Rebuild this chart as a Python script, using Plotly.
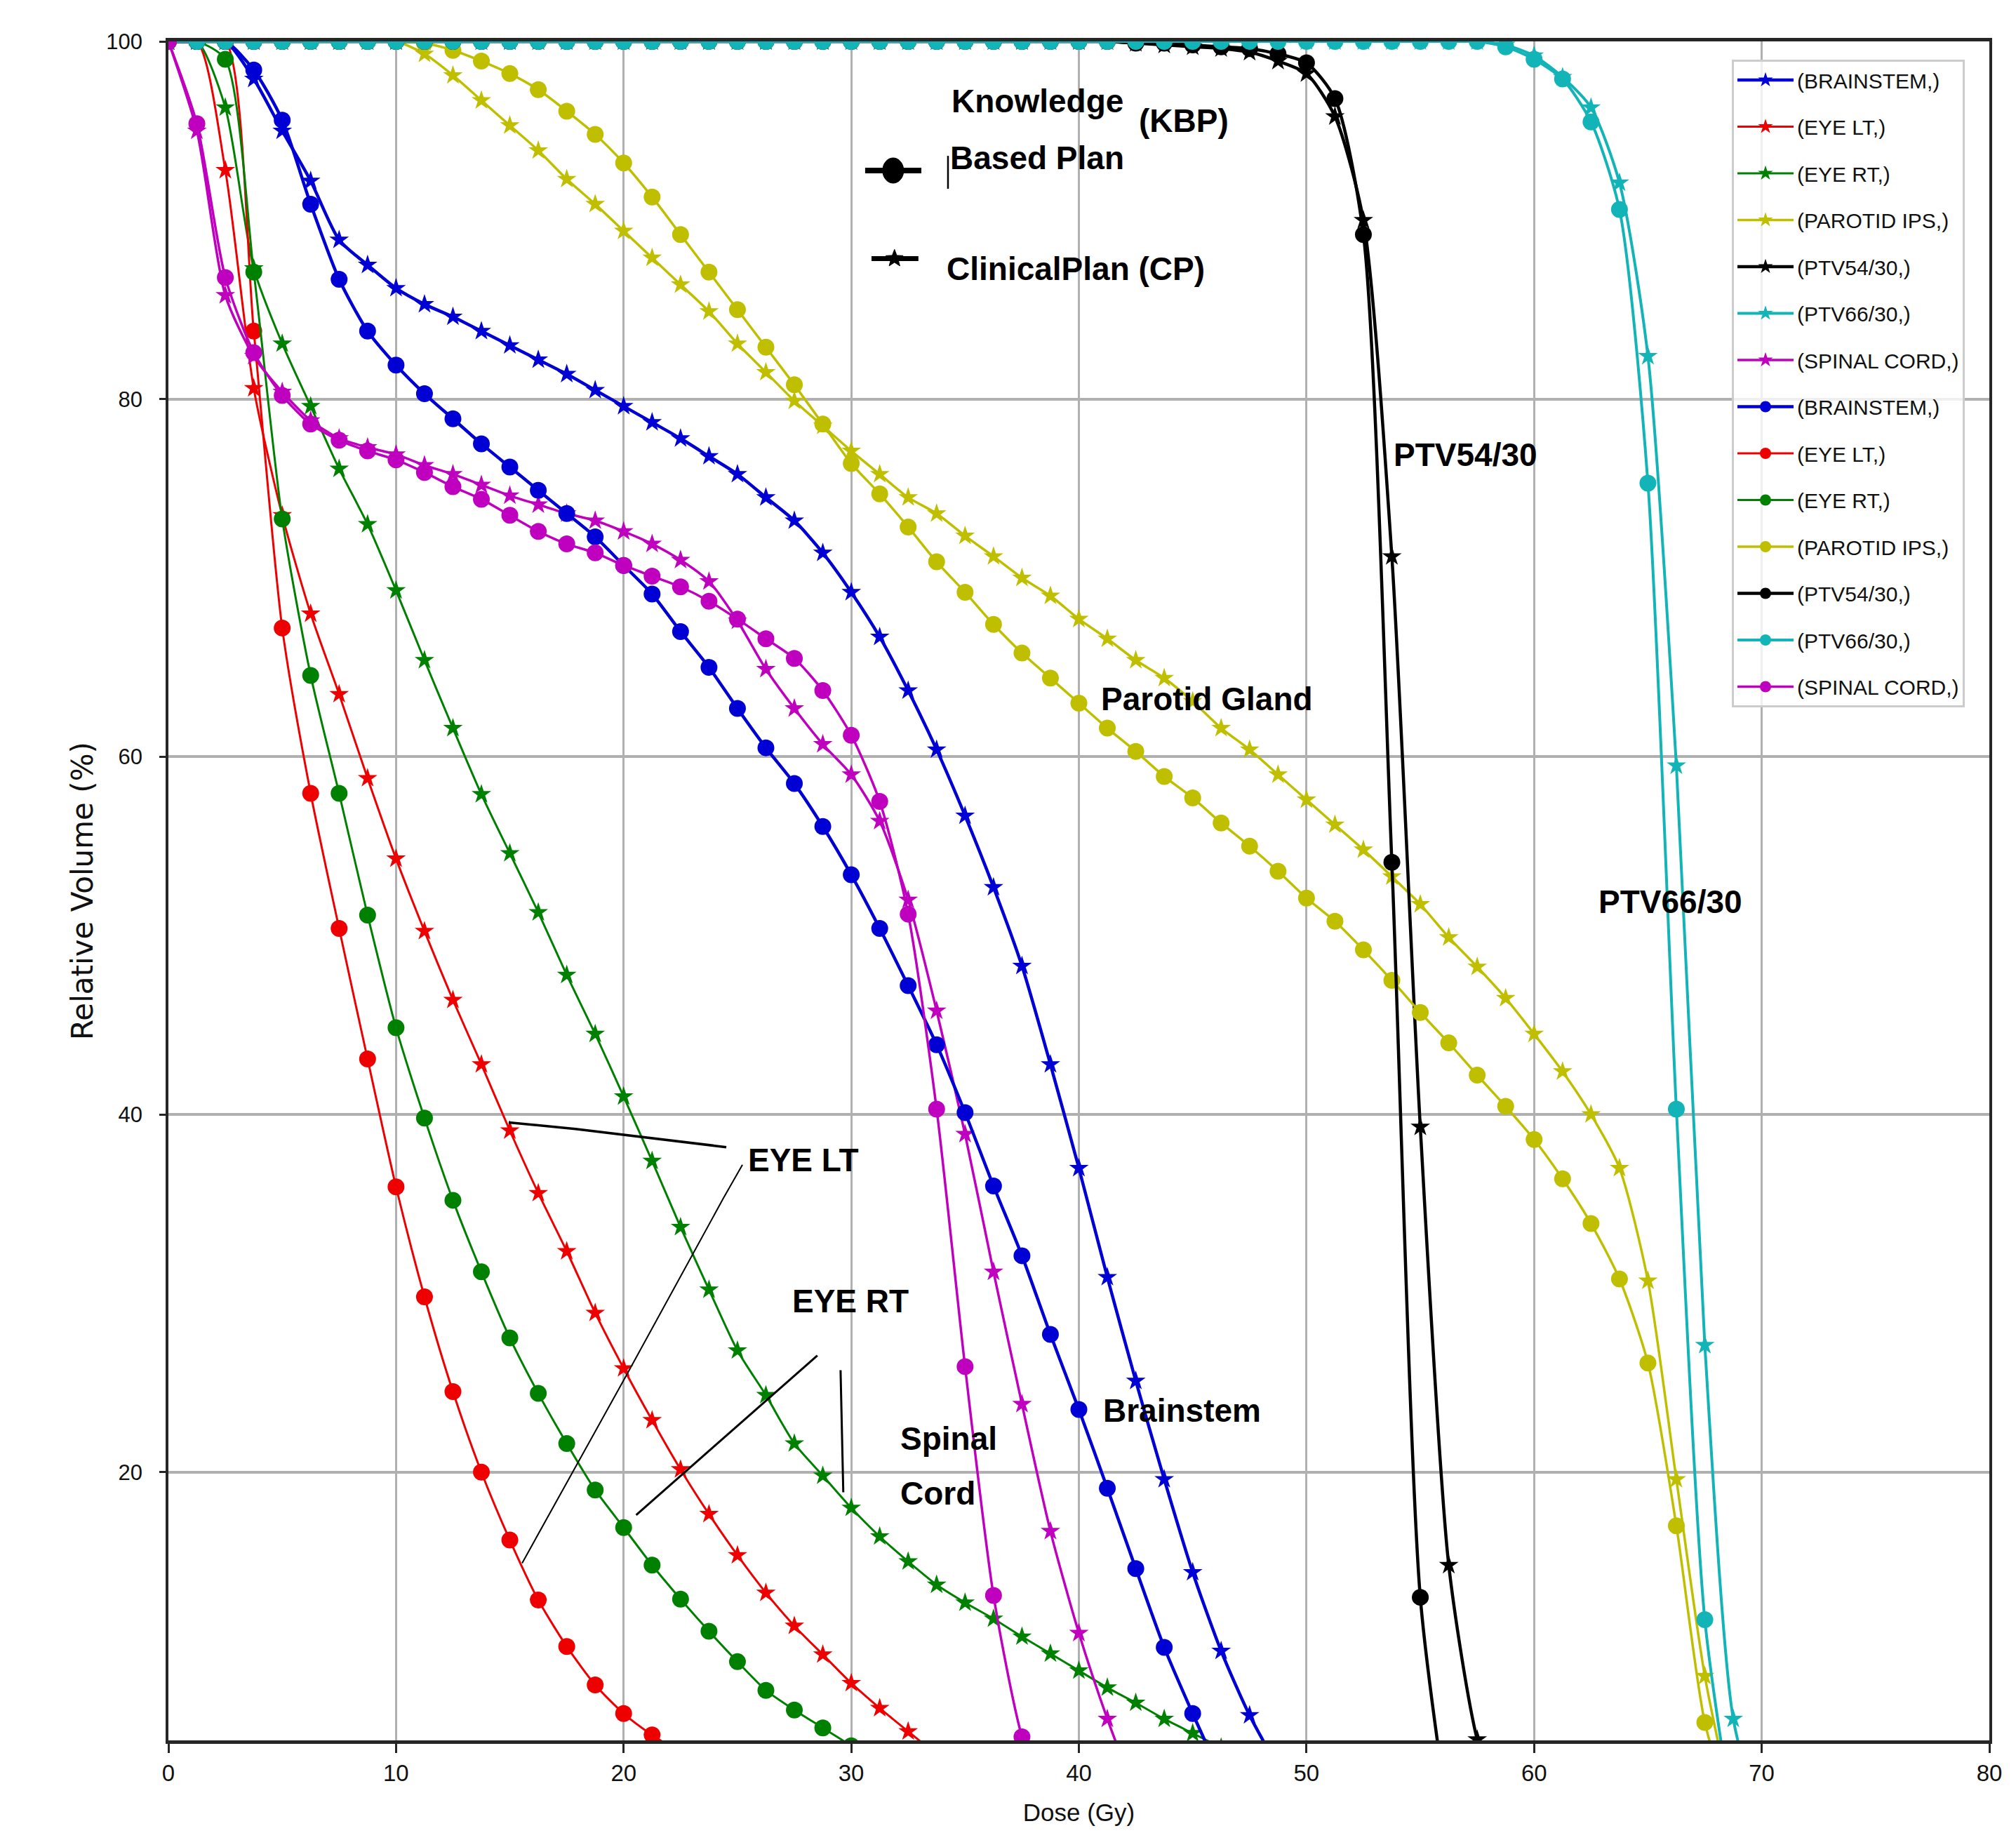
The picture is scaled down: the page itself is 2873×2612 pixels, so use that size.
import math
import plotly.graph_objects as go

# ---------------- data ----------------
# dose sampling grid (Gy); every series is sampled on this grid from 0 Gy
dose = [0.0, 1.25, 2.5, 3.75, 5.0, 6.25, 7.5, 8.75, 10.0, 11.25, 12.5, 13.75,
        15.0, 16.25, 17.5, 18.75, 20.0, 21.25, 22.5, 23.75, 25.0, 26.25, 27.5,
        28.75, 30.0, 31.25, 32.5, 33.75, 35.0, 36.25, 37.5, 38.75, 40.0, 41.25,
        42.5, 43.75, 45.0, 46.25, 47.5, 48.75, 50.0, 51.25, 52.5, 53.75, 55.0,
        56.25, 57.5, 58.75, 60.0, 61.25, 62.5, 63.75, 65.0, 66.25, 67.5, 68.75, 70.0]

organs = ["BRAINSTEM", "EYE LT", "EYE RT", "PAROTID IPS", "PTV54/30", "PTV66/30", "SPINAL CORD"]
organ_colors = ["#0000d4", "#ee0000", "#008000", "#bfbf00", "#000000", "#12b4b8", "#bf00bf"]
organ_linewidths = [4.5, 3, 3, 3.5, 4.5, 4, 3.5]

# Clinical Plan (CP), relative volume (%)
cp_brainstem = [100, 100, 100, 97.9, 95.0, 92.2, 88.9, 87.5, 86.2, 85.3, 84.6, 83.8, 83.0,
                82.2, 81.4, 80.5, 79.6, 78.7, 77.8, 76.8, 75.8, 74.5, 73.2, 71.4, 69.2, 66.7,
                63.7, 60.4, 56.7, 52.7, 48.3, 42.8, 37.0, 30.9, 25.1, 19.6, 14.4, 10.0, 6.4, 3.5]
cp_eye_lt = [100, 100, 92.8, 80.6, 73.5, 68.0, 63.5, 58.8, 54.3, 50.25, 46.4, 42.8, 39.1,
             35.6, 32.35, 28.9, 25.8, 22.9, 20.15, 17.65, 15.35, 13.25, 11.4, 9.8, 8.2, 6.8,
             5.5, 4.2]
cp_eye_rt = [100, 100, 96.3, 87.3, 83.1, 79.6, 76.1, 73.0, 69.3, 65.4, 61.6, 57.9, 54.6,
             51.3, 47.8, 44.5, 41.0, 37.4, 33.7, 30.2, 26.8, 24.3, 21.6, 19.8, 18.0, 16.4,
             15.0, 13.7, 12.7, 11.8, 10.8, 9.85, 8.9, 7.95, 7.1, 6.2, 5.4, 4.6]
cp_parotid = [100, 100, 100, 100, 100, 100, 100, 100, 100, 99.3, 98.1, 96.7, 95.3, 93.9,
              92.3, 90.9, 89.4, 87.9, 86.4, 84.9, 83.1, 81.5, 79.9, 78.5, 77.1, 75.8, 74.5,
              73.6, 72.35, 71.2, 70.0, 69.0, 67.7, 66.6, 65.4, 64.4, 63.1, 61.6, 60.4, 59.0,
              57.6, 56.2, 54.8, 53.3, 51.75, 49.9, 48.25, 46.5, 44.5, 42.4, 40.0, 37.0, 30.7,
              19.6, 8.6, 1.0]
cp_ptv54 = [100, 100, 100, 100, 100, 100, 100, 100, 100, 100, 100, 100, 100, 100, 100, 100,
            100, 100, 100, 100, 100, 100, 100, 100, 100, 100, 100, 100, 100, 100, 100, 100,
            100, 100, 99.9, 99.8, 99.7, 99.6, 99.4, 98.9, 98.2, 95.8, 90.0, 71.2, 39.3, 14.8,
            5.05, 0.5]
cp_ptv66 = [100, 100, 100, 100, 100, 100, 100, 100, 100, 100, 100, 100, 100, 100, 100, 100,
            100, 100, 100, 100, 100, 100, 100, 100, 100, 100, 100, 100, 100, 100, 100, 100,
            100, 100, 100, 100, 100, 100, 100, 100, 100, 100, 100, 100, 100, 100, 100, 99.8,
            99.2, 98.0, 96.3, 92.1, 82.4, 59.5, 27.1, 6.2, 0.3]
cp_spinal = [100, 95.0, 85.8, 82.4, 80.4, 78.8, 77.8, 77.3, 76.9, 76.3, 75.8, 75.2, 74.6,
             74.1, 73.6, 73.2, 72.6, 71.9, 71.0, 69.8, 67.6, 64.9, 62.7, 60.7, 59.0, 56.4,
             52.0, 45.8, 38.9, 31.2, 23.8, 16.7, 11.0, 6.2, 2.0]

# Knowledge Based Plan (KBP), relative volume (%)
kbp_brainstem = [100, 100, 100, 98.4, 95.6, 90.9, 86.7, 83.8, 81.9, 80.3, 78.9, 77.5, 76.2,
                 74.9, 73.6, 72.3, 70.7, 69.1, 67.0, 65.0, 62.7, 60.5, 58.5, 56.1, 53.4, 50.4,
                 47.2, 43.9, 40.1, 36.0, 32.1, 27.7, 23.5, 19.1, 14.6, 10.2, 6.5, 3.0]
kbp_eye_lt = [100, 100, 100, 83.8, 67.2, 57.95, 50.4, 43.1, 35.95, 29.8, 24.5, 20.0, 16.2,
              12.85, 10.25, 8.1, 6.5, 5.3, 4.3]
kbp_eye_rt = [100, 100, 99.0, 87.1, 73.3, 64.55, 57.95, 51.15, 44.85, 39.8, 35.2, 31.2, 27.5,
              24.4, 21.6, 19.0, 16.9, 14.8, 12.9, 11.1, 9.4, 7.8, 6.7, 5.7, 4.7]
kbp_parotid = [100, 100, 100, 100, 100, 100, 100, 100, 100, 99.9, 99.5, 98.9, 98.2, 97.3,
               96.1, 94.8, 93.2, 91.3, 89.2, 87.1, 85.0, 82.9, 80.8, 78.6, 76.4, 74.7, 72.85,
               70.9, 69.2, 67.4, 65.8, 64.4, 63.0, 61.6, 60.3, 58.9, 57.7, 56.3, 55.0, 53.6,
               52.1, 50.8, 49.2, 47.5, 45.7, 44.0, 42.2, 40.45, 38.6, 36.4, 33.9, 30.8, 26.1,
               17.0, 6.0, 0.8]
kbp_ptv54 = [100, 100, 100, 100, 100, 100, 100, 100, 100, 100, 100, 100, 100, 100, 100, 100,
             100, 100, 100, 100, 100, 100, 100, 100, 100, 100, 100, 100, 100, 100, 100, 100,
             100, 100, 99.9, 99.9, 99.8, 99.7, 99.6, 99.3, 98.8, 96.8, 89.2, 54.1, 13.0, 0.5]
kbp_ptv66 = [100, 100, 100, 100, 100, 100, 100, 100, 100, 100, 100, 100, 100, 100, 100, 100,
             100, 100, 100, 100, 100, 100, 100, 100, 100, 100, 100, 100, 100, 100, 100, 100,
             100, 100, 100, 100, 100, 100, 100, 100, 100, 100, 100, 100, 100, 100, 100, 99.7,
             99.0, 97.9, 95.5, 90.6, 75.3, 40.3, 11.75, 0.5]
kbp_spinal = [100, 95.4, 86.8, 82.6, 80.2, 78.6, 77.7, 77.1, 76.6, 75.9, 75.1, 74.4, 73.5,
              72.6, 71.9, 71.4, 70.7, 70.1, 69.5, 68.7, 67.7, 66.6, 65.5, 63.7, 61.2, 57.5,
              51.2, 40.3, 25.9, 13.1, 5.2, 1.0]

cp_series = [cp_brainstem, cp_eye_lt, cp_eye_rt, cp_parotid, cp_ptv54, cp_ptv66, cp_spinal]
kbp_series = [kbp_brainstem, kbp_eye_lt, kbp_eye_rt, kbp_parotid, kbp_ptv54, kbp_ptv66, kbp_spinal]

x_ticks = [0, 10, 20, 30, 40, 50, 60, 70, 80]
y_ticks = [20, 40, 60, 80, 100]

# ---------------- styling ----------------
SANS = "Liberation Sans, Arial, sans-serif"
W, H = 2873, 2612
ML, MR, MT, MB = 232, 46, 51, 140

fig = go.Figure()


def add_series(values, organ, color, lw, symbol, size, tag):
    fig.add_trace(go.Scatter(
        x=dose[:len(values)], y=values,
        mode="lines+markers",
        name=f"({organ},)",
        legendgroup=f"{tag}-{organ}",
        line=dict(color=color, width=lw, shape="spline", smoothing=0.7),
        marker=dict(symbol=symbol, size=size, color=color),
        cliponaxis=True,
    ))


for vals, organ, col, lw in zip(cp_series, organs, organ_colors, organ_linewidths):
    add_series(vals, organ, col, lw, "star", 21, "cp")
for vals, organ, col, lw in zip(kbp_series, organs, organ_colors, organ_linewidths):
    add_series(vals, organ, col, lw, "circle", 24, "kbp")

ann_font = dict(family=SANS, size=46, color="black", weight="bold")
labels = [
    ("Knowledge", 38.18, 96.65, "center"),
    ("Based Plan", 38.18, 93.49, "center"),
    ("(KBP)", 44.62, 95.57, "center"),
    ("ClinicalPlan (CP)", 39.86, 87.29, "center"),
    ("PTV54/30", 57.0, 76.89, "center"),
    ("PTV66/30", 66.0, 51.9, "center"),
    ("Parotid Gland", 45.62, 63.24, "center"),
    ("Brainstem", 44.54, 23.46, "center"),
    ("Spinal", 32.09, 21.89, "left"),
    ("Cord", 32.09, 18.83, "left"),
    ("EYE LT", 27.9, 37.47, "center"),
    ("EYE RT", 29.96, 29.58, "center"),
]
annotations = []
for text, ax_, ay_, anchor in labels:
    annotations.append(dict(text=text, x=ax_, y=ay_, xref="x", yref="y", showarrow=False,
                            xanchor=anchor, yanchor="middle", font=ann_font))

shapes = []


def poly(points, width):
    path = "M " + " L ".join(f"{px},{py}" for px, py in points)
    shapes.append(dict(type="path", path=path, xref="x", yref="y",
                       line=dict(color="black", width=width)))


# pointer lines from labels to curves
poly([(14.95, 39.55), (17.88, 39.19), (24.51, 38.17)], 3.5)
poly([(25.22, 37.19), (24.38, 35.31), (20.16, 25.5), (15.54, 14.91)], 2)
poly([(28.51, 26.52), (20.55, 17.6)], 3)
poly([(29.53, 25.7), (29.65, 18.87)], 3)

# plan key (KBP: line + dot, CP: line + star)
poly([(30.61, 92.78), (33.08, 92.78)], 8)
shapes.append(dict(type="circle", xref="x", yref="y", xsizemode="pixel", ysizemode="pixel",
                   xanchor=31.84, yanchor=92.78, x0=-15, x1=15, y0=-18, y1=18,
                   fillcolor="black", line=dict(color="black", width=1)))
poly([(34.25, 91.76), (34.25, 93.6)], 2.5)
poly([(30.89, 87.86), (32.95, 87.86)], 7)
star_pts = []
for i in range(10):
    ang = math.radians(90 + 36 * i)
    r = 13 if i % 2 == 0 else 5.5
    star_pts.append((r * math.cos(ang), r * math.sin(ang)))
star_path = "M " + " L ".join(f"{px:.2f},{py:.2f}" for px, py in star_pts) + " Z"
shapes.append(dict(type="path", path=star_path, xref="x", yref="y", xsizemode="pixel",
                   ysizemode="pixel", xanchor=31.9, yanchor=87.86,
                   fillcolor="black", line=dict(color="black", width=1)))

axis_common = dict(showgrid=True, gridcolor="#b0b0b0", showline=True,
                   linecolor="#262626", mirror=True, ticks="outside",
                   tickwidth=2.5, tickcolor="#262626", zeroline=False,
                   automargin=False)

fig.update_layout(
    width=W, height=H,
    margin=dict(l=ML, r=MR, t=MT, b=MB, pad=0),
    paper_bgcolor="white", plot_bgcolor="white",
    xaxis=dict(range=[0, 80], tickvals=x_ticks, ticktext=[str(v) for v in x_ticks],
               tickfont=dict(family=SANS, size=33, color="#111111"),
               ticklen=13, ticklabelstandoff=0, gridwidth=2.5, linewidth=5,
               title=dict(text="Dose (Gy)", standoff=28,
                          font=dict(family=SANS, size=35, color="#111111")),
               **axis_common),
    yaxis=dict(range=[5, 100], tickvals=y_ticks, ticktext=[str(v) for v in y_ticks],
               tickfont=dict(family=SANS, size=31, color="#111111"),
               ticklen=9, ticklabelstandoff=18, gridwidth=3.5, linewidth=3.5,
               title=dict(text="Relative Volume (%)", standoff=7,
                          font=dict(family="DejaVu Sans", size=42, color="#111111")),
               **axis_common),
    legend=dict(x=(2460 - ML) / (W - ML - MR), xanchor="left",
                y=1 - (77 - MT) / (H - MT - MB), yanchor="top",
                bgcolor="rgba(255,255,255,0.8)", bordercolor="#cccccc", borderwidth=3,
                font=dict(family=SANS, size=30, color="#111111"),
                itemwidth=80, traceorder="grouped", tracegroupgap=24.5,
                itemsizing="trace"),
    annotations=annotations,
    shapes=shapes,
    showlegend=True,
)

fig.write_html("out.html")
